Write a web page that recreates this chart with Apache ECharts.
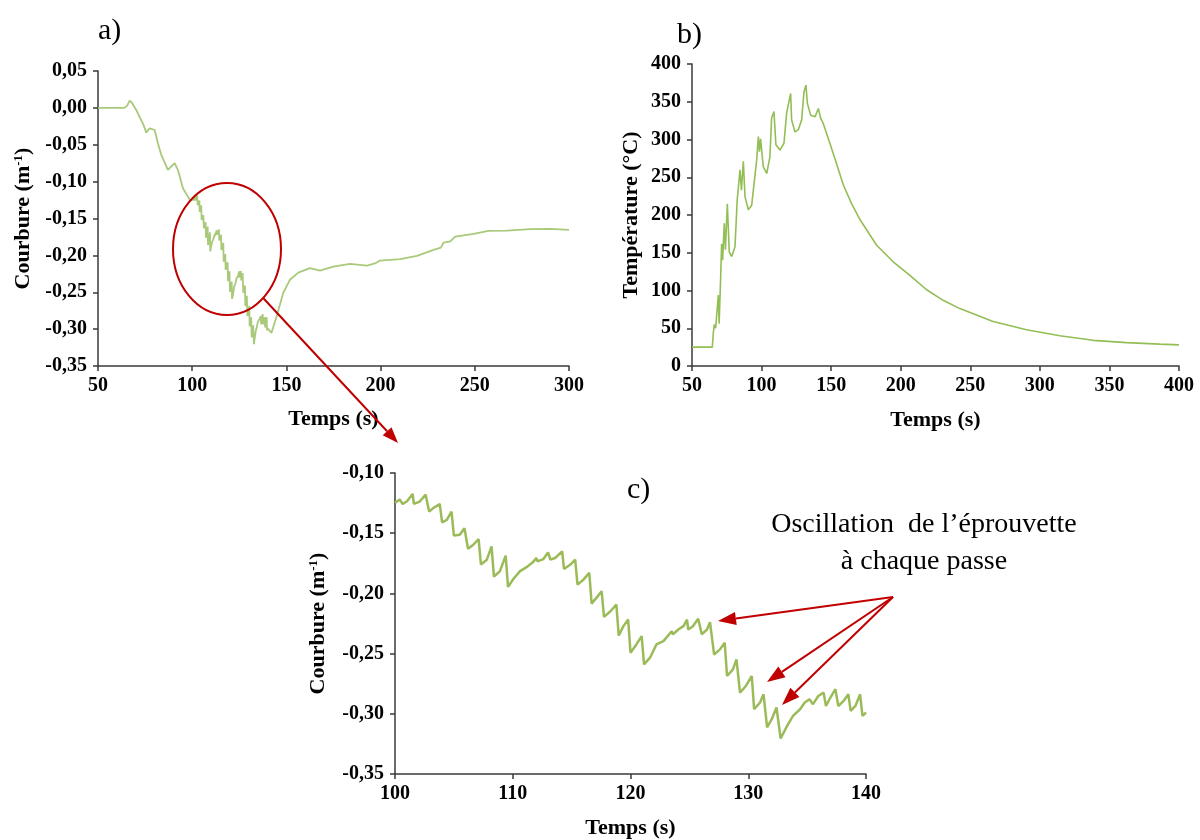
<!DOCTYPE html>
<html>
<head>
<meta charset="utf-8">
<script src="https://cdn.jsdelivr.net/npm/echarts@6/dist/echarts.min.js"></script>
<style>
html,body{margin:0;padding:0;background:#fff;}
#main{width:1200px;height:840px;}
</style>
</head>
<body>
<div id="main"></div>
<script>
// ---------- Data ----------
// a) Courbure, before the zoomed window
const timeA_pre = [50, 64, 65.5, 66.8, 68, 70.3, 72, 73.8, 74.6, 75.6, 77.4, 80.05, 81.8, 83.6, 87.1, 90.7, 92.4, 95.1, 98.7];
const curvA_pre = [0, 0, 0.003, 0.0098, 0.007, -0.0028, -0.012, -0.021, -0.026, -0.0336, -0.0277, -0.03, -0.048, -0.0638, -0.0841, -0.075, -0.084, -0.109, -0.1248];

// c) Courbure, zoom 100-140 s (also the middle part of a)
const timeC = [100.0, 100.4, 100.65, 101.0, 101.5, 101.6, 102.1, 102.6, 102.9, 103.25, 103.8, 104.0, 104.4, 104.8, 105.0, 105.5, 105.9, 106.2, 106.65, 107.1, 107.3, 107.8, 108.2, 108.4, 108.9, 109.4, 109.6, 110.05, 110.6, 111.2, 111.7, 112.0, 112.1, 112.6, 113.0, 113.2, 113.6, 114.2, 114.35, 114.9, 115.3, 115.5, 116.0, 116.5, 116.7, 117.1, 117.55, 117.75, 118.3, 118.8, 119.0, 119.4, 119.8, 120.0, 120.5, 120.95, 121.15, 121.66, 122.2, 122.8, 123.5, 123.6, 124.06, 124.5, 124.8, 124.9, 125.3, 125.75, 126.05, 126.5, 126.75, 127.1, 127.6, 128.0, 128.2, 128.7, 129.0, 129.3, 129.8, 130.3, 130.5, 131.0, 131.3, 131.6, 132.0, 132.4, 132.75, 133.3, 133.8, 134.4, 134.8, 135.2, 135.5, 135.95, 136.4, 136.6, 136.9, 137.4, 137.65, 138.1, 138.5, 138.7, 139.1, 139.5, 139.7, 140.0];
const curvC = [-0.1248, -0.122, -0.1257, -0.1237, -0.1174, -0.1257, -0.1237, -0.118, -0.132, -0.1292, -0.1257, -0.141, -0.1389, -0.132, -0.152, -0.1513, -0.1458, -0.163, -0.1596, -0.155, -0.176, -0.172, -0.161, -0.186, -0.1817, -0.1687, -0.1946, -0.188, -0.1817, -0.178, -0.1742, -0.1706, -0.1734, -0.1715, -0.166, -0.172, -0.1706, -0.1651, -0.1797, -0.176, -0.172, -0.1927, -0.1886, -0.183, -0.2085, -0.2037, -0.1982, -0.2195, -0.2148, -0.2093, -0.235, -0.2272, -0.2217, -0.2493, -0.2424, -0.2355, -0.259, -0.2534, -0.2424, -0.2396, -0.2314, -0.234, -0.23, -0.2272, -0.2217, -0.23, -0.2272, -0.2211, -0.234, -0.23, -0.2239, -0.2507, -0.2465, -0.241, -0.2686, -0.2631, -0.2548, -0.2824, -0.2769, -0.2686, -0.2962, -0.2906, -0.2838, -0.3113, -0.3045, -0.2948, -0.3205, -0.31, -0.3017, -0.2962, -0.2906, -0.2879, -0.292, -0.2852, -0.2824, -0.2935, -0.2879, -0.2796, -0.2935, -0.2893, -0.2838, -0.2976, -0.2935, -0.2838, -0.3017, -0.2989];

// a) Courbure, after the zoomed window
const timeA_post = [142.1, 144.8, 148.3, 151.9, 156.3, 162.5, 167.8, 174.9, 183.8, 192.7, 197, 199.7, 210.4, 219.3, 228.1, 232, 233.4, 237, 239.6, 249.4, 257.3, 267.1, 279.5, 290.2, 300];
const curvA_post = [-0.305, -0.283, -0.251, -0.233, -0.2233, -0.2174, -0.2206, -0.2152, -0.2115, -0.2138, -0.211, -0.207, -0.2052, -0.2007, -0.1926, -0.1895, -0.1826, -0.181, -0.1745, -0.1709, -0.1668, -0.1664, -0.1645, -0.1641, -0.1654];

// b) Température
const tempTime = [50, 64.6, 65.3, 66, 67, 68.9, 69.5, 70.6, 71.3, 72, 73.2, 74, 75.4, 76.8, 78.5, 80.9, 82.5, 84.5, 85.5, 86.9, 88.1, 90.5, 92.9, 96.5, 97.7, 98.5, 99.3, 101.2, 103.7, 106, 107.2, 108.9, 110.3, 113.2, 116.1, 118, 120.9, 121.6, 124, 126.4, 128.8, 130.5, 131.9, 132.9, 135.3, 138.4, 140.8, 142.5, 144.4, 149.1, 153.9, 158.7, 164.7, 170.7, 182.7, 194.6, 206.6, 218.6, 230.5, 242.5, 266.4, 290.4, 314.4, 338.3, 362.3, 386.2, 400];
const tempVals = [25, 25, 43, 55, 50, 94, 56, 118, 162, 140, 189, 154, 215, 151, 145, 158, 220, 260, 233, 271, 224, 207, 213, 273, 304, 284, 301, 264, 255, 277, 328, 337, 293, 286, 295, 335, 361, 326, 310, 313, 326, 363, 372, 348, 332, 330, 341, 328, 321, 295, 268, 240, 215, 194, 160, 138, 120, 101, 87, 76, 59, 48, 40, 34, 31, 29, 28];

// Axis titles / labels
const panelLabels = ['a)', 'b)', 'c)'];
const xTitle = 'Temps (s)';
const yTitleCurv = 'Courbure (m{sup|-1})';
const yTitleTemp = 'Température (°C)';
const noteLines = ['Oscillation  de l\u2019éprouvette', 'à chaque passe'];

// ---------- Build ----------
const zip = (xs, ys) => xs.map((x, i) => [x, ys[i]]);
const dataA = zip(timeA_pre, curvA_pre).concat(zip(timeC, curvC), zip(timeA_post, curvA_post));
const dataB = zip(tempTime, tempVals);
const dataC = zip(timeC, curvC);

const FONT = '"Liberation Serif", "Times New Roman", serif';
const AX = '#3a3a3a';
const RED = '#C00000';
const comma2 = v => v.toFixed(2).replace('.', ',');

function xAxisCfg(grid, min, max, interval, gap) {
  return {
    type: 'value', gridIndex: grid, min, max, interval,
    name: xTitle, nameLocation: 'middle', nameGap: gap,
    nameTextStyle: { fontFamily: FONT, fontSize: 22, fontWeight: 'bold', color: '#000' },
    axisLine: { show: true, onZero: false, lineStyle: { color: AX, width: 1.5 } },
    axisTick: { show: true, inside: false, length: 5, lineStyle: { color: AX, width: 1.5 } },
    axisLabel: { fontFamily: FONT, fontSize: 20, fontWeight: 'bold', color: '#000', margin: 10 },
    splitLine: { show: false }
  };
}
function yAxisCfg(grid, min, max, interval, name, gap, fmt) {
  return {
    type: 'value', gridIndex: grid, min, max, interval,
    name, nameLocation: 'middle', nameGap: gap, nameRotate: 90,
    nameTextStyle: {
      fontFamily: FONT, fontSize: 22, fontWeight: 'bold', color: '#000',
      rich: { sup: { fontFamily: FONT, fontSize: 13, fontWeight: 'bold', color: '#000', verticalAlign: 'top', lineHeight: 22 } }
    },
    axisLine: { show: true, onZero: false, lineStyle: { color: AX, width: 1.5 } },
    axisTick: { show: true, inside: false, length: 5, lineStyle: { color: AX, width: 1.5 } },
    axisLabel: { fontFamily: FONT, fontSize: 20, fontWeight: 'bold', color: '#000', margin: 11, formatter: fmt },
    splitLine: { show: false }
  };
}

const chart = echarts.init(document.getElementById('main'), null, { renderer: 'canvas' });

function arrow(x1, y1, x2, y2, lw, hl, hw) {
  const dx = x2 - x1, dy = y2 - y1, L = Math.sqrt(dx * dx + dy * dy);
  const ux = dx / L, uy = dy / L;
  const bx = x2 - ux * hl, by = y2 - uy * hl;
  return [
    { type: 'line', shape: { x1, y1, x2: bx, y2: by }, style: { stroke: RED, lineWidth: lw }, z: 100 },
    { type: 'polygon', shape: { points: [[x2, y2], [bx - uy * hw / 2, by + ux * hw / 2], [bx + uy * hw / 2, by - ux * hw / 2]] }, style: { fill: RED }, z: 100 }
  ];
}

const ellCx = 227, ellCy = 249, ellRx = 54, ellRy = 66;
const ang = 48 * Math.PI / 180;
const ellStart = [ellCx + ellRx * Math.cos(ang), ellCy + ellRy * Math.sin(ang)];

const graphics = [
  { type: 'text', left: 98, top: 16, style: { text: panelLabels[0], font: '30px ' + FONT, fill: '#000' } },
  { type: 'text', left: 677, top: 20, style: { text: panelLabels[1], font: '30px ' + FONT, fill: '#000' } },
  { type: 'text', left: 627, top: 475, style: { text: panelLabels[2], font: '30px ' + FONT, fill: '#000' } },
  { type: 'ellipse', shape: { cx: ellCx, cy: ellCy, rx: ellRx, ry: ellRy }, style: { fill: 'none', stroke: RED, lineWidth: 2 }, z: 100 },
  { type: 'text', x: 924, y: 525, style: { text: noteLines[0], font: '28px ' + FONT, fill: '#000', align: 'center', verticalAlign: 'middle' } },
  { type: 'text', x: 924, y: 562, style: { text: noteLines[1], font: '28px ' + FONT, fill: '#000', align: 'center', verticalAlign: 'middle' } }
]
  .concat(arrow(ellStart[0], ellStart[1], 398, 443, 2, 16, 12))
  .concat(arrow(893, 597, 718, 621, 2, 18, 13))
  .concat(arrow(893, 597, 767, 682, 2, 18, 13))
  .concat(arrow(893, 597, 782, 705, 2, 18, 13));

const option = {
  backgroundColor: '#fff',
  animation: false,
  grid: [
    { left: 98, top: 71, width: 471, height: 295 },
    { left: 692, top: 64, width: 487, height: 302 },
    { left: 395, top: 473, width: 471, height: 302 }
  ],
  xAxis: [
    xAxisCfg(0, 50, 300, 50, 42),
    xAxisCfg(1, 50, 400, 50, 43),
    xAxisCfg(2, 100, 140, 10, 43)
  ],
  yAxis: [
    yAxisCfg(0, -0.35, 0.05, 0.05, yTitleCurv, 64, comma2),
    yAxisCfg(1, 0, 400, 50, yTitleTemp, 50, v => String(v)),
    yAxisCfg(2, -0.35, -0.10, 0.05, yTitleCurv, 66, comma2)
  ],
  series: [
    { type: 'line', xAxisIndex: 0, yAxisIndex: 0, data: dataA, showSymbol: false, lineStyle: { color: '#a9c97b', width: 1.8 } },
    { type: 'line', xAxisIndex: 1, yAxisIndex: 1, data: dataB, showSymbol: false, lineStyle: { color: '#93be55', width: 1.6 } },
    { type: 'line', xAxisIndex: 2, yAxisIndex: 2, data: dataC, showSymbol: false, lineStyle: { color: '#9bbb59', width: 2.5 } }
  ],
  graphic: graphics
};
chart.setOption(option);
</script>
</body>
</html>
